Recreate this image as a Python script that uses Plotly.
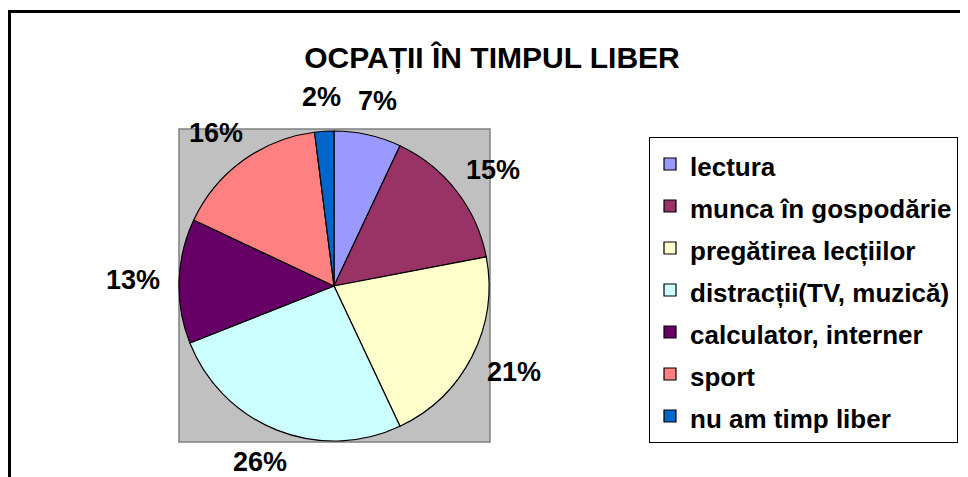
import numpy as np
import plotly.graph_objects as go

# Datele graficului
categorii = ['lectura', 'munca în gospodărie', 'pregătirea lecțiilor',
             'distracții(TV, muzică)', 'calculator, interner', 'sport',
             'nu am timp liber']
procente = [7, 15, 21, 26, 13, 16, 2]
culori = ['#9999FF', '#993366', '#FFFFCC', '#CCFFFF', '#660066', '#FF8080', '#0066CC']

W, H = 968, 477
OFF = 8  # marginea implicita a paginii html


def px(x):
    return (x - OFF) / W


def py(y):
    return 1 - (y - OFF) / H


# geometria pie-ului in pixeli (din coltul stanga-sus)
cx, cy, r = 334, 286, 155

fig = go.Figure()

fig.add_trace(go.Pie(
    labels=[f'<span style="font-size:26px"><b>{c}</b></span>' for c in categorii],
    values=procente,
    sort=False,
    direction='clockwise',
    rotation=0,
    textinfo='none',
    hoverinfo='label+percent',
    marker=dict(colors=culori, line=dict(color='black', width=1.2)),
    domain=dict(x=[px(cx - r), px(cx + r)], y=[py(cy + r), py(cy - r)]),
))

# etichetele procentuale, puse in afara feliilor
total = sum(procente)
cum = 0
annotations = []
for p in procente:
    mid = (cum + p / 2) / total * 2 * np.pi
    cum += p
    lx = cx + 1.3 * r * np.sin(mid)
    ly = cy - 1.22 * r * np.cos(mid)
    annotations.append(dict(
        x=px(lx), y=py(ly), xref='paper', yref='paper',
        text=f'<b>{round(p / total * 100)}%</b>', showarrow=False,
        xanchor='center', yanchor='middle',
        font=dict(size=27, color='black', family='Arial, Liberation Sans'),
    ))

fig.update_layout(
    width=W, height=H,
    margin=dict(l=0, r=0, t=0, b=0),
    paper_bgcolor='white',
    font=dict(family='Arial, Liberation Sans', color='black'),
    title=dict(text='<b>OCPAȚII ÎN TIMPUL LIBER</b>', x=px(492), xanchor='center',
               y=py(57), yanchor='middle', font=dict(size=30, color='black')),
    showlegend=True,
    legend=dict(x=px(649), y=py(137), xanchor='left', yanchor='top',
                bgcolor='white', bordercolor='black', borderwidth=1,
                font=dict(size=30, color='black'), traceorder='normal'),
    annotations=annotations,
    shapes=[
        # fundalul gri din spatele graficului
        dict(type='rect', xref='paper', yref='paper', layer='below',
             x0=px(179), x1=px(490), y0=py(442), y1=py(129),
             fillcolor='#C0C0C0', line=dict(color='#808080', width=1.5)),
        # chenarul exterior
        dict(type='rect', xref='paper', yref='paper', layer='above',
             x0=px(9.5), x1=px(1000), y0=py(520), y1=py(11.5),
             line=dict(color='black', width=3)),
    ],
)

fig.write_html("out.html")
